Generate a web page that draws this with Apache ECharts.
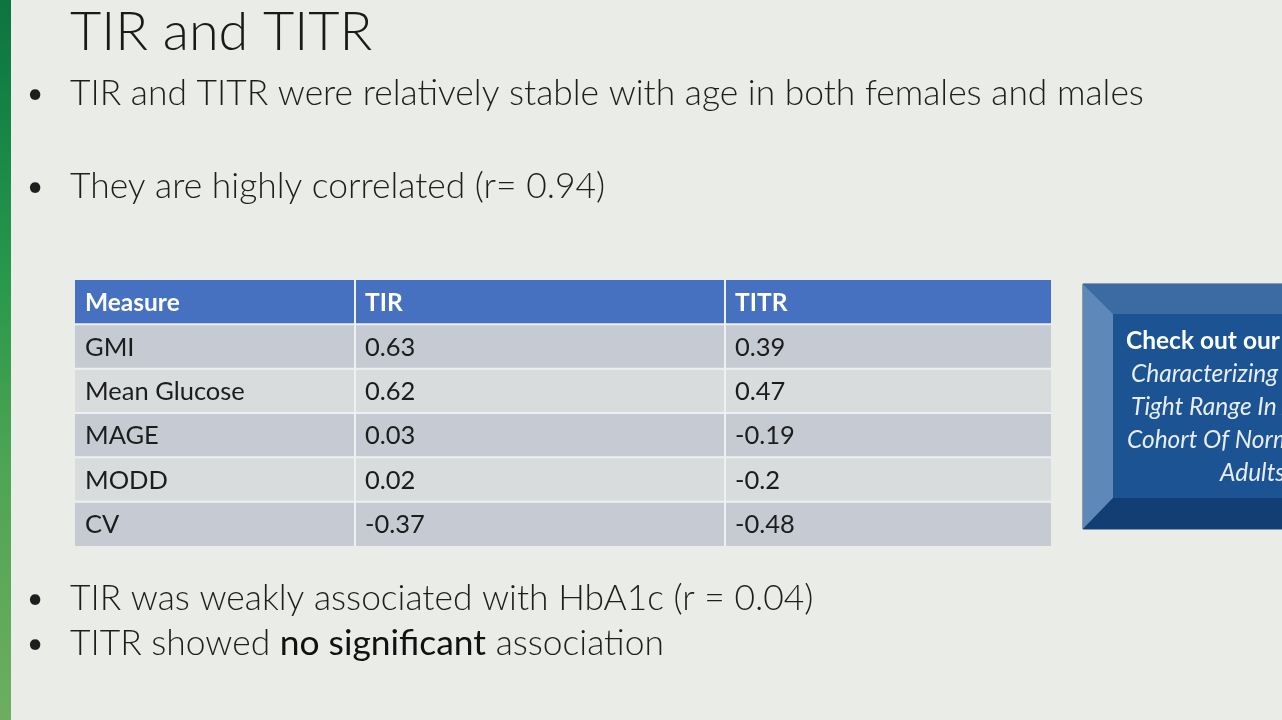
<!DOCTYPE html>
<html>
<head>
<meta charset="utf-8">
<script src="https://cdn.jsdelivr.net/npm/echarts@6/dist/echarts.min.js"></script>
<style>html,body{margin:0;padding:0;background:#e9ece7;}#c{width:1282px;height:720px;}</style>
</head>
<body>
<div id="c"></div>
<script>
const columns = ['Measure', 'TIR', 'TITR'];
const measures = ['GMI', 'Mean Glucose', 'MAGE', 'MODD', 'CV'];
const tirValues = [0.63, 0.62, 0.03, 0.02, -0.37];
const titrValues = [0.39, 0.47, -0.19, -0.2, -0.48];
const titleText = 'TIR and TITR';
const bulletsTop = ['TIR and TITR were relatively stable with age in both females and males', 'They are highly correlated (r= 0.94)'];
const bulletsBottom = ['TIR was weakly associated with HbA1c (r = 0.04)'];
const posterLines = ['Characterizing Time In', 'Tight Range In A', 'Cohort Of Normoglycemic', 'Adults'];

const FONT = 'Lato';
const colCells = [measures, tirValues, titrValues];
const rowKeys = ['header'].concat(measures);
const gridLayout = [{left: 75, width: 280}, {left: 355, width: 370}, {left: 725, width: 326}];

const chart = echarts.init(document.getElementById('c'), null, {renderer: 'canvas', width: 1282, height: 720});

function cellLabel(col, row) {
  return row === 0 ? columns[col] : String(colCells[col][row - 1]);
}

function renderCell(params, api) {
  const row = api.value(1);
  const col = params.seriesIndex;
  const c = api.coord([api.value(0), row]);
  const s = api.size([1, 1]);
  const x = c[0] - s[0] / 2, y = c[1] - s[1] / 2;
  const isHeader = row === 0;
  const fill = isHeader ? '#4571c0' : (row % 2 === 1 ? '#c5cad3' : '#d9dcdd');
  return {
    type: 'group',
    children: [
      {type: 'rect', shape: {x: x, y: y, width: s[0], height: s[1]},
       style: {fill: '#eef1f3'}},
      {type: 'rect', shape: {x: x + (col === 0 ? 0 : 1), y: y + (row === 0 ? 0 : 1),
        width: s[0] - (col === 0 ? 1 : 2) + (col === 2 ? 1 : 0), height: s[1] - (row === 0 ? 1 : 2) + (row === rowKeys.length - 1 ? 1 : 0)},
       style: {fill: fill}},
      {type: 'text', style: {text: cellLabel(col, row), x: x + 10, y: c[1] + 1, align: 'left', verticalAlign: 'middle',
        fill: isHeader ? '#ffffff' : '#1c1c1c', fontFamily: FONT, fontSize: isHeader ? 24.5 : 25.5,
        fontWeight: isHeader ? 'bold' : 'normal'}}
    ]
  };
}

const grids = gridLayout.map(g => ({left: g.left, width: g.width, top: 280, height: 266}));
const xAxes = columns.map((col, i) => ({type: 'category', gridIndex: i, data: [col], show: false}));
const yAxes = columns.map((col, i) => ({type: 'category', gridIndex: i, data: rowKeys, inverse: true, show: false}));
const series = columns.map((col, i) => ({
  type: 'custom', xAxisIndex: i, yAxisIndex: i, renderItem: renderCell, silent: true,
  data: rowKeys.map((r, j) => [0, j])
}));

const BODY = 35.4;
function bullet(text, y, rich) {
  return [
    {type: 'text', style: {text: '•', x: 35, y: y, align: 'center', verticalAlign: 'middle', fontSize: 28, fill: '#1e1e1e', fontFamily: FONT}},
    {type: 'text', style: rich ? {text: text, rich: rich, x: 70, y: y, verticalAlign: 'middle', fontFamily: FONT} :
      {text: text, x: 70, y: y, verticalAlign: 'middle', fontSize: BODY, fontWeight: 300, fill: '#1e1e1e', fontFamily: FONT}}
  ];
}

const bodyRich = {
  l: {fontSize: BODY, fontWeight: 300, fill: '#1e1e1e', fontFamily: FONT},
  b: {fontSize: BODY, fontWeight: 'normal', fill: '#111111', fontFamily: FONT}
};

const boxText = {fontSize: 24.5, fontStyle: 'italic', fill: '#e6edf5', fontFamily: FONT, verticalAlign: 'middle'};

const graphic = [
  {type: 'rect', left: 0, top: 0, shape: {width: 11, height: 720}, style: {fill: new echarts.graphic.LinearGradient(0, 0, 0, 1, [
    {offset: 0, color: '#0c7440'}, {offset: 0.35, color: '#23964a'}, {offset: 0.65, color: '#4ea553'}, {offset: 1, color: '#6dae5e'}])}},
  {type: 'text', style: {text: titleText, x: 70, y: 33, verticalAlign: 'middle', fontSize: 54, fontWeight: 300, fill: '#1a1a1a', fontFamily: FONT}},
  ...bullet(bulletsTop[0], 94),
  ...bullet(bulletsTop[1], 187),
  ...bullet(bulletsBottom[0], 599),
  ...bullet('{l|TITR showed }{b|no significant}{l| association}', 644, bodyRich),
  // poster box
  {type: 'polygon', shape: {points: [[1083, 284], [1300, 284], [1300, 529], [1083, 529]]}, style: {fill: '#1b5393', stroke: '#2a4a70', lineWidth: 1}},
  {type: 'polygon', shape: {points: [[1083, 284], [1300, 284], [1300, 314], [1113, 314]]}, style: {fill: '#3b6ba2'}},
  {type: 'polygon', shape: {points: [[1083, 284], [1113, 314], [1113, 498], [1083, 529]]}, style: {fill: '#5e88b7'}},
  {type: 'polygon', shape: {points: [[1083, 529], [1113, 498], [1300, 498], [1300, 529]]}, style: {fill: '#123e73'}},
  {type: 'text', style: {text: 'Check out our poster', x: 1126, y: 341, fontSize: 24.5, fontWeight: 'bold', fill: '#ffffff', fontFamily: FONT, verticalAlign: 'middle'}},
  {type: 'text', style: Object.assign({text: posterLines[0], x: 1131, y: 374}, boxText)},
  {type: 'text', style: Object.assign({text: posterLines[1], x: 1131, y: 407}, boxText)},
  {type: 'text', style: Object.assign({text: posterLines[2], x: 1127, y: 440}, boxText)},
  {type: 'text', style: Object.assign({text: posterLines[3], x: 1220, y: 473}, boxText)}
];

chart.setOption({
  backgroundColor: '#e9ece7',
  animation: false,
  grid: grids,
  xAxis: xAxes,
  yAxis: yAxes,
  series: series,
  graphic: graphic
});
</script>
</body>
</html>
